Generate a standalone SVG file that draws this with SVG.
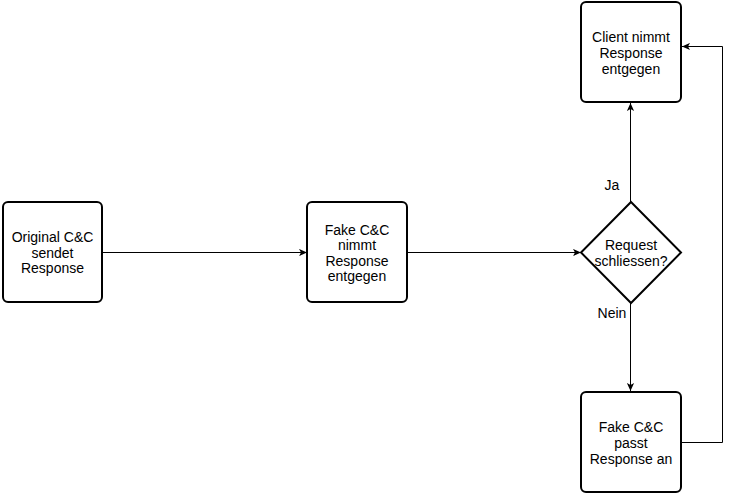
<svg xmlns="http://www.w3.org/2000/svg" width="733" height="495" viewBox="0 0 733 495">
<defs>
<marker id="arr" viewBox="0 0 10 10" refX="10" refY="5" markerWidth="8" markerHeight="8" markerUnits="userSpaceOnUse" orient="auto">
<path d="M0,0.5 L10,5 L0,9.5 L2.5,5 Z" fill="#000"/>
</marker>
<style>
.box{fill:#fff;stroke:#000;stroke-width:2}
.t{font-family:"Liberation Sans",Arial,sans-serif;font-size:14px;fill:#000;text-anchor:middle}
.e{fill:none;stroke:#000;stroke-width:1;marker-end:url(#arr)}
.l{font-family:"Liberation Sans",Arial,sans-serif;font-size:14px;fill:#000;text-anchor:middle}
</style>
</defs>
<rect width="733" height="495" fill="#fff"/>
<g id="connectors">
<path class="e" d="M102.5,252.5 L307,252.5"/>
<path class="e" d="M407.5,252.5 L581,252.5"/>
<path class="e" d="M630.5,202 L630.5,103"/>
<path class="e" d="M630.5,303 L630.5,391"/>
<path class="e" d="M681,442.5 L722.5,442.5 L722.5,46.5 L682,46.5"/>
<text class="l" x="612" y="190">Ja</text>
<text class="l" x="612" y="318">Nein</text>
</g>
<g id="original">
<rect class="box" x="3" y="202" width="99" height="100" rx="5"/>
<text class="t" x="52.5" y="242">Original C&amp;C</text>
<text class="t" x="52.5" y="257.5">sendet</text>
<text class="t" x="52.5" y="273">Response</text>
</g>
<g id="fake_nimmt">
<rect class="box" x="307" y="202" width="100" height="100" rx="5"/>
<text class="t" x="357" y="234.5">Fake C&amp;C</text>
<text class="t" x="357" y="250">nimmt</text>
<text class="t" x="357" y="265.5">Response</text>
<text class="t" x="357" y="281">entgegen</text>
</g>
<g id="decision">
<path class="box" d="M631,202 L681,252.5 L631,303 L581,252.5 Z"/>
<text class="t" x="631" y="249.5">Request</text>
<text class="t" x="631" y="266">schliessen?</text>
</g>
<g id="client">
<rect class="box" x="581" y="2" width="100" height="100" rx="5"/>
<text class="t" x="631" y="41.5">Client nimmt</text>
<text class="t" x="631" y="57.5">Response</text>
<text class="t" x="631" y="73.5">entgegen</text>
</g>
<g id="fake_passt">
<rect class="box" x="581" y="392" width="100" height="100" rx="5"/>
<text class="t" x="631" y="431.5">Fake C&amp;C</text>
<text class="t" x="631" y="447.5">passt</text>
<text class="t" x="631" y="463.5">Response an</text>
</g>
</svg>
